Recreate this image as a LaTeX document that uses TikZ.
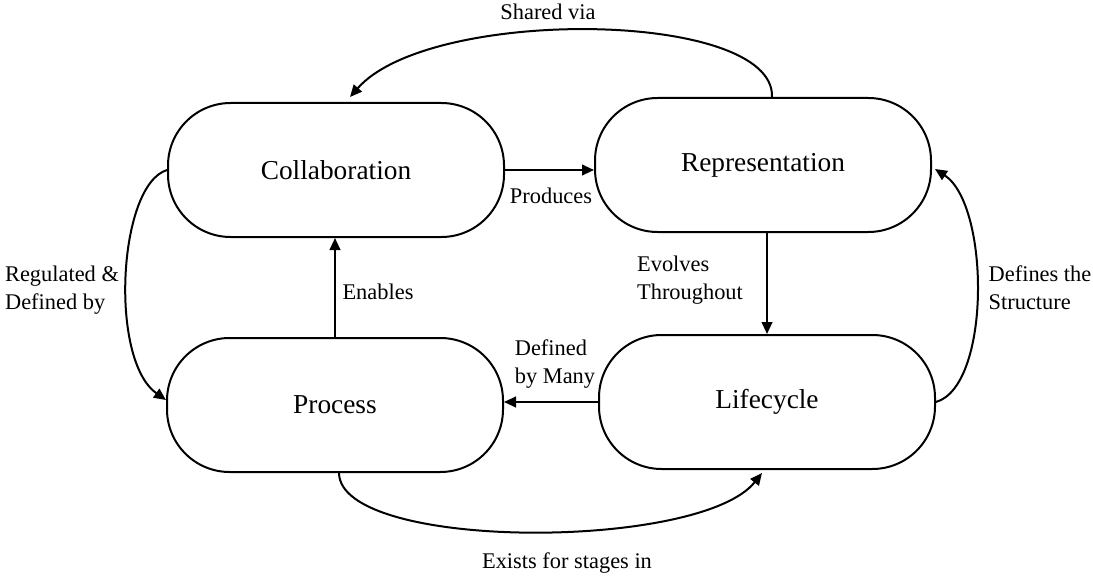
\documentclass[tikz,border=0pt]{standalone}
\usepackage{fontspec}
\setmainfont{Liberation Serif}
\usetikzlibrary{arrows.meta}
\begin{document}
\begin{tikzpicture}[x=0.75pt,y=0.75pt,>={Triangle[length=9pt,width=8pt]}]
\tikzstyle{every node}+=[inner sep=0pt]
\tikzstyle{block}=[draw=black,line width=1.5pt,rounded corners=47pt,minimum width=252pt,minimum height=100.5pt,font=\fontsize{20.5}{24}\selectfont]
\tikzstyle{lbl}=[align=left,font=\fontsize{16.8}{21}\selectfont]
\tikzstyle{link}=[black,line width=1.5pt,->]
\useasboundingbox (0,0) rectangle (1093,576);
\node [block] (collab) at (336,406) {Collaboration};
\node [block] (repr) at (763,411) {Representation};
\node [block] (proc) at (335,171) {Process};
\node [block] (life) at (767,174) {Lifecycle};
\draw [link] (collab.east) -- (collab.east -| repr.west);
\node [lbl] (produces) at (551,380) {Produces};
\draw [link] (proc.north) -- (proc.north |- collab.south);
\node [lbl] (enables) at (378,284) {Enables};
\draw [link] (life.north |- repr.south) -- (life.north);
\node [lbl] (evolves) at (690,296) {Evolves\\Throughout};
\draw [link] (life.west) -- (life.west -| proc.east);
\node [lbl] (definedby) at (555,212) {Defined\\by Many};
\draw [link] ([shift={(9,0)}]repr.north) .. controls +(3,87) and +(80,91) .. ([shift={(14,5)}]collab.north);
\node [lbl] (shared) at (548,564) {Shared via};
\draw [link] (collab.west) .. controls +(-49,-15) and +(-57,40) .. ([shift={(0,5)}]proc.west);
\node [lbl] (regulated) at (62,286) {Regulated \&\\Defined by};
\draw [link] (life.east) .. controls +(55,16) and +(55,-36) .. ([shift={(3,-4)}]repr.east);
\node [lbl] (structure) at (1040,288) {Defines the\\Structure};
\draw [link] ([shift={(4,0)}]proc.south) .. controls +(1,-78) and +(-62,-78) .. ([shift={(-5,-3)}]life.south);
\node [lbl] (exists) at (567,13) {Exists for stages in};
\end{tikzpicture}
\end{document}
